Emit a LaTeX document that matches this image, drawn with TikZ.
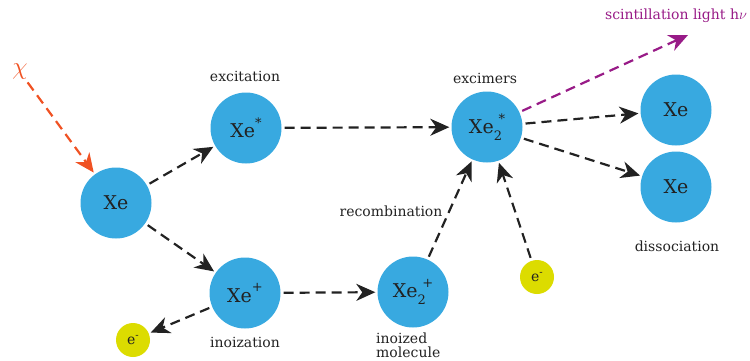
\documentclass[tikz,border=0pt]{standalone}
\usepackage{fontspec}
\setmainfont{DejaVu Serif}
\usetikzlibrary{arrows.meta}
\definecolor{ballblue}{HTML}{38A9E0}
\definecolor{eyellow}{HTML}{DCDC00}
\definecolor{chiorange}{HTML}{F05223}
\definecolor{lightpurple}{HTML}{981B87}
\definecolor{ink}{HTML}{222222}
\newcommand{\supx}[1]{\raisebox{0.55em}{\fontsize{13}{13}\selectfont #1}}
\newcommand{\subsupx}[2]{\rlap{\raisebox{-0.35em}{\fontsize{13}{13}\selectfont #1}}\hspace{0.25em}\raisebox{0.55em}{\fontsize{13}{13}\selectfont #2}}
\begin{document}
\begin{tikzpicture}[x=1pt,y=-1pt,
  atom/.style={circle,fill=ballblue,minimum size=71pt,inner sep=0pt,text=ink,font=\fontsize{19}{21}\selectfont},
  elec/.style={circle,fill=eyellow,minimum size=34pt,inner sep=0pt,text=ink,font=\fontsize{14}{16}\selectfont},
  lbl/.style={text=ink,font=\fontsize{14}{15}\selectfont,inner sep=0pt},
  flow/.style={draw=ink,line width=2.2pt,dash pattern=on 10pt off 6pt,-{Stealth[length=19pt,width=17pt,inset=6pt]},shorten <=3pt,shorten >=2pt}
]
\useasboundingbox (0,0) rectangle (750,360);
\node[text=chiorange,font=\fontsize{28}{30}\selectfont,inner sep=0pt] (chi) at (20,72) {$\chi$};
\node[atom] (xe) at (116,203) {Xe};
\node[atom] (xes) at (246,128) {Xe\supx{*}};
\node[atom] (xep) at (245,293) {Xe\supx{+}};
\node[atom] (xe2p) at (413,292) {Xe\subsupx{2}{+}};
\node[atom] (xe2s) at (487,127) {Xe\subsupx{2}{*}};
\node[atom] (xa) at (676,110) {Xe};
\node[atom] (xb) at (676,187) {Xe};
\node[elec] (e1) at (133,340) {e\raisebox{0.45em}{\fontsize{10}{10}\selectfont -}};
\node[elec] (e2) at (537,277) {e\raisebox{0.45em}{\fontsize{10}{10}\selectfont -}};
\node[lbl] (lexc) at (245,76) {excitation};
\node[lbl] (lion) at (245,342) {inoization};
\node[lbl,align=left,anchor=west,font=\fontsize{14}{14}\selectfont] (lmol) at (376,345) {inoized\\molecule};
\node[lbl] (lexm) at (485,78) {excimers};
\node[lbl] (lrec) at (391,211) {recombination};
\node[lbl] (ldis) at (677,246) {dissociation};
\node[lbl,text=lightpurple] (lsci) at (676,16) {scintillation light h$\nu$};
\coordinate (photon) at (688,35);
\draw[flow,draw=chiorange,color=chiorange] (chi) -- (xe);
\draw[flow] (xe) -- (xes);
\draw[flow] (xe) -- (xep);
\draw[flow] (xes) -- (xe2s);
\draw[flow] (xep) -- (xe2p);
\draw[flow] (xep) -- (e1);
\draw[flow] (xe2p) -- (xe2s);
\draw[flow] (e2) -- (xe2s);
\draw[flow] (xe2s) -- (xa);
\draw[flow] (xe2s) -- (xb);
\draw[flow,draw=lightpurple,color=lightpurple,shorten >=0pt] (xe2s) -- (photon);
\end{tikzpicture}
\end{document}
